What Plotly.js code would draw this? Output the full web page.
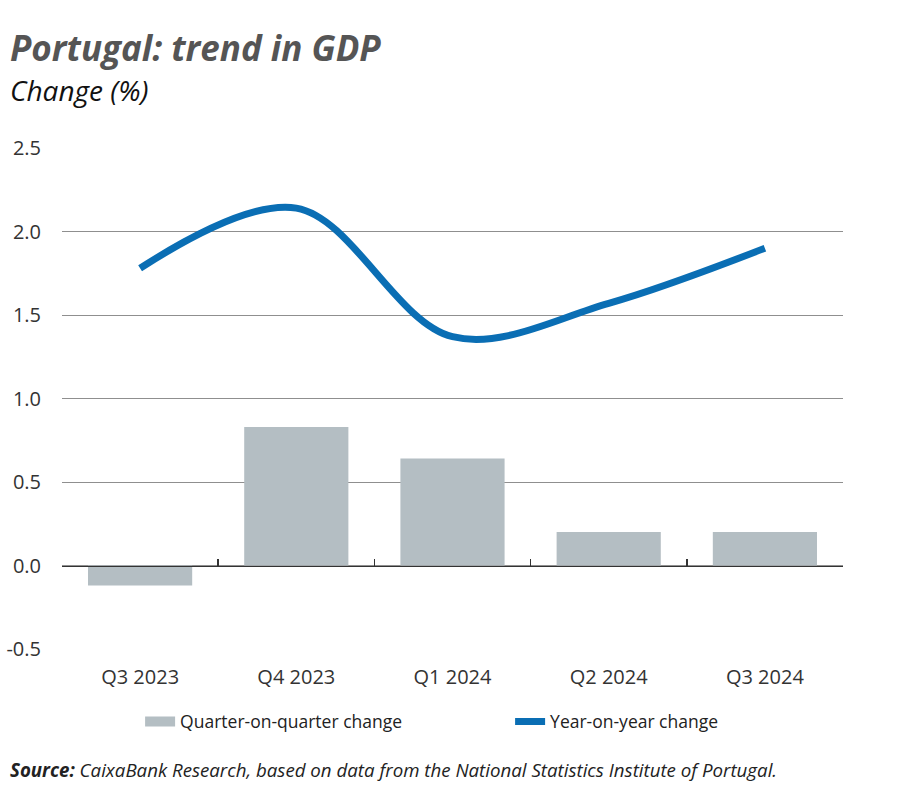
<!DOCTYPE html>
<html>
<head>
<meta charset="utf-8">
<script src="https://cdn.plot.ly/plotly-3.0.1.min.js"></script>
<style>html,body{margin:0;padding:0;background:#fff;}#chart{width:900px;height:792px;}</style>
</head>
<body>
<div id="chart"></div>
<script>
var categories = ["Q3 2023", "Q4 2023", "Q1 2024", "Q2 2024", "Q3 2024"];
var quarterOnQuarter = [-0.12, 0.83, 0.64, 0.20, 0.20];
var yearOnYear = [1.78, 2.14, 1.37, 1.57, 1.90];
var yTicks = [-0.5, 0.0, 0.5, 1.0, 1.5, 2.0, 2.5];

var FONT = "Open Sans, Noto Sans, sans-serif";
var BAR_COLOR = "#b4bec3";
var LINE_COLOR = "#0a6eb4";

var traces = [
  {
    type: "bar",
    name: "Quarter-on-quarter change",
    x: categories,
    y: quarterOnQuarter,
    xaxis: "x2",
    yaxis: "y",
    marker: {color: BAR_COLOR},
    width: 0.667,
    showlegend: false,
    hoverinfo: "x+y"
  },
  {
    type: "scatter",
    mode: "lines",
    name: "Quarter-on-quarter change",
    x: [null],
    y: [null],
    xaxis: "x",
    yaxis: "y",
    line: {color: BAR_COLOR, width: 14},
    showlegend: true,
    hoverinfo: "skip"
  },
  {
    type: "scatter",
    mode: "lines",
    name: "Year-on-year change",
    x: categories,
    y: yearOnYear,
    xaxis: "x",
    yaxis: "y",
    line: {color: LINE_COLOR, width: 7, shape: "spline", smoothing: 1.0},
    hoverinfo: "x+y"
  }
];

var layout = {
  width: 900,
  height: 792,
  margin: {l: 62, r: 57, t: 148, b: 143},
  paper_bgcolor: "#ffffff",
  plot_bgcolor: "#ffffff",
  font: {family: FONT, color: "#333333", size: 18},
  showlegend: true,
  legend: {
    orientation: "h",
    x: 0.1, xanchor: "left",
    y: -0.145, yanchor: "middle",
    font: {family: FONT, size: 17.5, color: "#222222"},
    entrywidth: 325,
    entrywidthmode: "pixels",
    traceorder: "normal",
    tracegroupgap: 0
  },
  xaxis: {
    type: "category",
    categoryorder: "array",
    categoryarray: categories,
    range: [-0.5, 4.5],
    showgrid: false,
    showline: false,
    zeroline: false,
    ticks: "",
    ticklabelstandoff: 14,
    tickfont: {family: FONT, size: 20, color: "#333333"},
    fixedrange: true
  },
  xaxis2: {
    type: "category",
    categoryorder: "array",
    categoryarray: categories,
    range: [-0.5, 4.5],
    overlaying: "x",
    anchor: "free",
    position: 1 / 6,
    side: "bottom",
    showgrid: false,
    showline: true,
    linecolor: "#333333",
    linewidth: 1.5,
    zeroline: false,
    ticks: "inside",
    tickson: "boundaries",
    ticklen: 7,
    tickwidth: 1.5,
    tickcolor: "#333333",
    showticklabels: false,
    fixedrange: true
  },
  yaxis: {
    range: [-0.5, 2.5],
    tickvals: yTicks,
    ticktext: yTicks.map(function (v) { return v.toFixed(1); }),
    showgrid: true,
    gridcolor: "#8f8f8f",
    gridwidth: 1,
    zeroline: false,
    showline: false,
    ticks: "",
    ticklabelstandoff: 20,
    tickfont: {family: FONT, size: 20, color: "#333333"},
    fixedrange: true
  },
  annotations: [
    {
      xref: "paper", yref: "paper",
      x: -0.069, y: 1.2, xanchor: "left", yanchor: "middle",
      showarrow: false,
      text: "<b><i>Portugal: trend in GDP</i></b>",
      font: {family: FONT, size: 35, color: "#555555"}
    },
    {
      xref: "paper", yref: "paper",
      x: -0.069, y: 1.116, xanchor: "left", yanchor: "middle",
      showarrow: false,
      text: "<i>Change (%)</i>",
      font: {family: FONT, size: 28, color: "#111111"}
    },
    {
      xref: "paper", yref: "paper",
      x: -0.069, y: -0.2415, xanchor: "left", yanchor: "middle",
      showarrow: false,
      text: "<b><i>Source:</i></b><i> CaixaBank Research, based on data from the National Statistics Institute of Portugal.</i>",
      font: {family: FONT, size: 18.7, color: "#222222"}
    }
  ]
};

Plotly.newPlot("chart", traces, layout, {displayModeBar: false, staticPlot: true});
</script>
</body>
</html>
